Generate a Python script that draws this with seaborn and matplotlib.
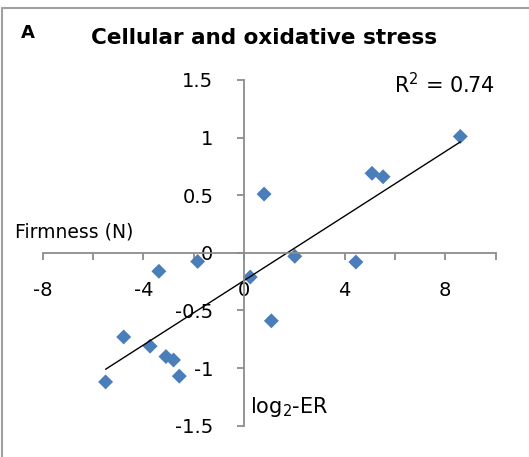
import numpy as np
import pandas as pd
import matplotlib.pyplot as plt
import seaborn as sns
from matplotlib.lines import Line2D

# values
log2_er = [-5.5, -4.78, -3.73, -3.38, -3.1, -2.8, -2.57, -1.84,
           0.25, 0.8, 1.09, 2.02, 4.45, 5.09, 5.53, 8.6]
firmness = [-1.12, -0.73, -0.81, -0.16, -0.9, -0.93, -1.07, -0.075,
            -0.21, 0.51, -0.59, -0.03, -0.08, 0.69, 0.66, 1.01]
x_ticks = [-8, -6, -4, -2, 0, 2, 4, 6, 8, 10]
y_ticks = [-1.5, -1, -0.5, 0, 0.5, 1, 1.5]

TITLE = "Cellular and oxidative stress"
R2_TEXT = "R$^2$ = 0.74"

GREY = "#8c8c8c"
BLUE = "#4a7ebb"


def plot_stress():
    sns.set_theme(style="white")
    plt.rcParams["font.family"] = ["DejaVu Sans"]
    plt.rcParams["axes.unicode_minus"] = False
    plt.rcParams["text.color"] = "black"
    plt.rcParams["xtick.labelcolor"] = "black"
    plt.rcParams["ytick.labelcolor"] = "black"

    df = pd.DataFrame({"x": log2_er, "y": firmness})

    fig = plt.figure(figsize=(5.29, 4.57), dpi=100)
    ax = fig.add_axes([0.0807, 0.0685, 0.856, 0.7565])

    sns.regplot(x="x", y="y", data=df, ax=ax, ci=None, marker="D",
                scatter_kws={"s": 58, "color": BLUE, "edgecolor": "none", "alpha": 1},
                line_kws={"color": "black", "linewidth": 1.0})

    ax.set_xlim(-8, 10)
    ax.set_ylim(-1.5, 1.5)

    # axes cross at the origin, like the Excel original
    for side in ["top", "right"]:
        ax.spines[side].set_visible(False)
    ax.spines["left"].set_position(("data", 0))
    ax.spines["bottom"].set_position(("data", 0))
    for side in ["left", "bottom"]:
        ax.spines[side].set_color(GREY)
        ax.spines[side].set_linewidth(1.3)

    ax.set_xticks(x_ticks)
    ax.set_xticklabels([str(t) if t % 4 == 0 and t != 10 else "" for t in x_ticks])
    ax.set_yticks(y_ticks)
    ax.set_yticklabels([f"{t:g}" for t in y_ticks])
    ax.tick_params(axis="x", direction="out", length=5, width=1.3, color=GREY,
                   pad=15, labelsize=14, bottom=True, labelcolor="black")
    ax.tick_params(axis="y", direction="out", length=5, width=1.3, color=GREY,
                   pad=17, labelsize=14, left=True, labelcolor="black")
    ax.set_xlabel("")
    ax.set_ylabel("")
    ax.grid(False)

    fig.text(0.5, 1 - 38 / 457, TITLE, ha="center", va="center",
             fontsize=15.5, weight="bold", color="black")
    fig.text(28 / 529, 1 - 33 / 457, "A", ha="center", va="center",
             fontsize=13, weight="bold", color="black")
    fig.text(15 / 529, 1 - 232 / 457, "Firmness (N)", ha="left", va="center",
             fontsize=13.5, color="black")
    fig.text(250 / 529, 1 - 407 / 457, "log$_2$-ER", ha="left", va="center",
             fontsize=15, color="black")
    fig.text(495 / 529, 1 - 85 / 457, R2_TEXT, ha="right", va="center",
             fontsize=15, color="black")

    # grey frame on the top and left edge
    fig.add_artist(Line2D([2 / 529, 1], [1 - 8 / 457, 1 - 8 / 457],
                          transform=fig.transFigure, color="#a0a0a0", linewidth=1.5))
    fig.add_artist(Line2D([2 / 529, 2 / 529], [0, 1 - 8 / 457],
                          transform=fig.transFigure, color="#a0a0a0", linewidth=1.5))

    fig.savefig("out.png", dpi=100)
    plt.close(fig)


if __name__ == "__main__":
    plot_stress()
